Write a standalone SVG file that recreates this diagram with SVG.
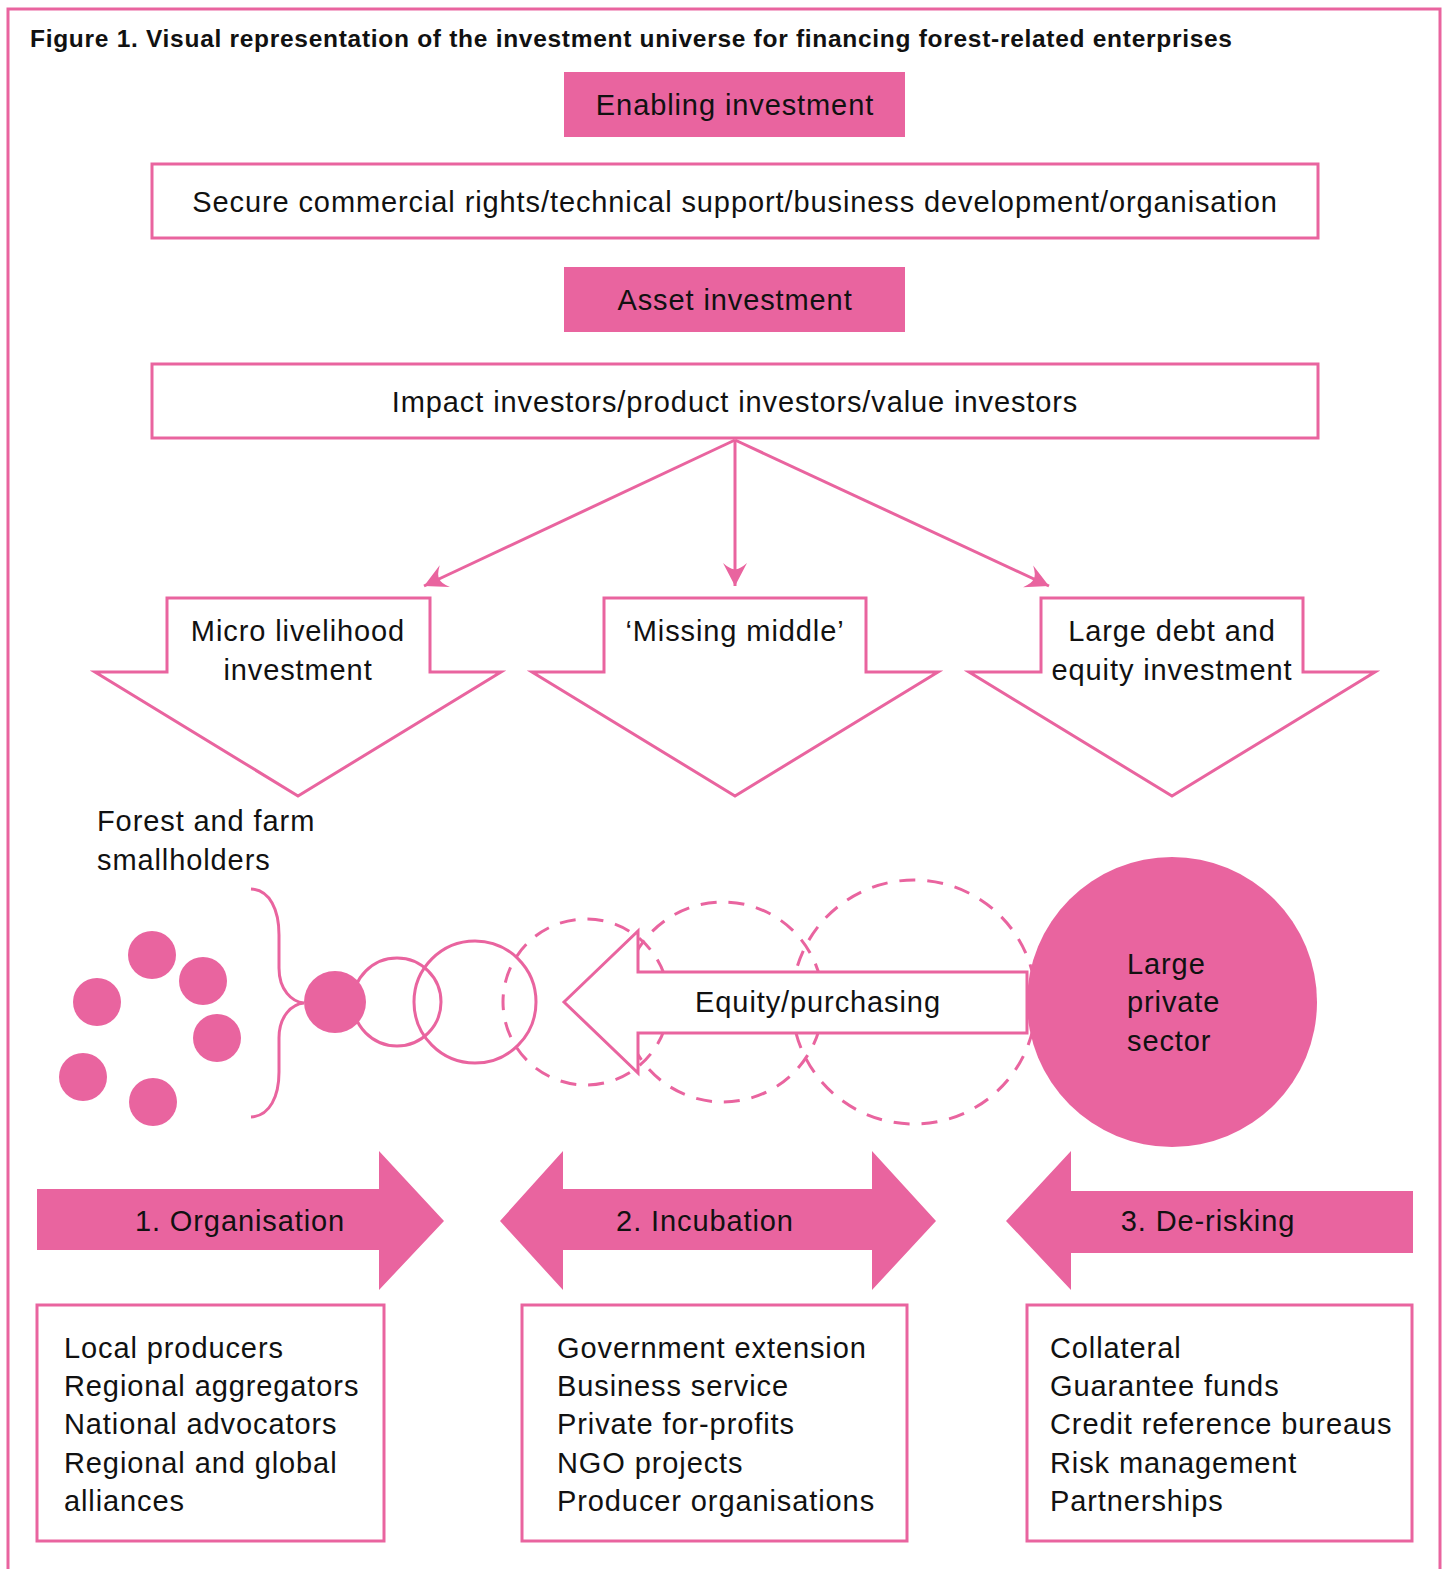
<svg xmlns="http://www.w3.org/2000/svg" width="1448" height="1569" viewBox="0 0 1448 1569">
<style>
text{font-family:"Liberation Sans",Arial,sans-serif;fill:#111;font-size:29px;letter-spacing:0.9px}
.t{font-weight:bold;font-size:24.5px;letter-spacing:0}
.c{text-anchor:middle}
.fill{fill:#E9649F}
.box{fill:#fff;stroke:#E9649F;stroke-width:3}
.ln{fill:none;stroke:#E9649F;stroke-width:3}
.dash{fill:none;stroke:#E9649F;stroke-width:3;stroke-dasharray:16 12}
</style>
<defs>
<marker id="ah" markerUnits="userSpaceOnUse" viewBox="-24 -13 26 26" refX="0" refY="0" markerWidth="26" markerHeight="26" orient="auto">
<path d="M0,0 L-23,-12 Q-16,-4 -17,0 Q-16,4 -23,12 Z" fill="#E9649F"/>
</marker>
</defs>
<rect x="8" y="9" width="1432" height="1580" fill="none" stroke="#E9649F" stroke-width="3"/>
<text class="t" x="30" y="47" textLength="1202" lengthAdjust="spacing">Figure 1. Visual representation of the investment universe for financing forest-related enterprises</text>

<g id="enabling"><rect class="fill" x="564" y="72" width="341" height="65"/><text class="c" x="735" y="115">Enabling investment</text></g>
<g id="secure"><rect class="box" x="152" y="164" width="1166" height="74"/><text class="c" x="735" y="212">Secure commercial rights/technical support/business development/organisation</text></g>
<g id="asset"><rect class="fill" x="564" y="267" width="341" height="65"/><text class="c" x="735" y="310">Asset investment</text></g>
<g id="impact"><rect class="box" x="152" y="364" width="1166" height="74"/><text class="c" x="735" y="412">Impact investors/product investors/value investors</text></g>

<g id="connectors">
<line class="ln" x1="735" y1="440" x2="424" y2="586" marker-end="url(#ah)"/>
<line class="ln" x1="735" y1="440" x2="735" y2="586" marker-end="url(#ah)"/>
<line class="ln" x1="735" y1="440" x2="1049" y2="586" marker-end="url(#ah)"/>
</g>

<g id="micro"><polygon class="box" points="167,598 430,598 430,672 501,672 298,796 95,672 167,672"/><text class="c" x="298" y="641">Micro livelihood</text><text class="c" x="298" y="680">investment</text></g>
<g id="missing"><polygon class="box" points="604,598 866,598 866,672 938,672 735,796 532,672 604,672"/><text class="c" x="735" y="641">‘Missing middle’</text></g>
<g id="large-debt"><polygon class="box" points="1041,598 1303,598 1303,672 1375,672 1172,796 969,672 1041,672"/><text class="c" x="1172" y="641">Large debt and</text><text class="c" x="1172" y="680">equity investment</text></g>

<g id="smallholders">
<text x="97" y="831">Forest and farm</text><text x="97" y="870">smallholders</text>
<circle class="fill" cx="152" cy="955" r="24"/>
<circle class="fill" cx="203" cy="981" r="24"/>
<circle class="fill" cx="97" cy="1002" r="24"/>
<circle class="fill" cx="217" cy="1038" r="24"/>
<circle class="fill" cx="83" cy="1077" r="24"/>
<circle class="fill" cx="153" cy="1102" r="24"/>
<path class="ln" d="M251,889 C270,890 279,910 279,935 L279,968 C279,990 292,1002 304,1003 C292,1004 279,1016 279,1038 L279,1072 C279,1096 270,1116 251,1117"/>
</g>

<g id="growth">
<circle class="ln" cx="397" cy="1002" r="44"/>
<circle class="ln" cx="475" cy="1002" r="61"/>
<circle class="fill" cx="335" cy="1002" r="31"/>
<circle class="dash" cx="586" cy="1002" r="83"/>
<circle class="dash" cx="723" cy="1002" r="100"/>
<circle class="dash" cx="914" cy="1002" r="122"/>
</g>

<g id="large-private"><circle class="fill" cx="1172" cy="1002" r="145"/><text x="1127" y="974">Large</text><text x="1127" y="1012">private</text><text x="1127" y="1051">sector</text></g>

<g id="equity"><polygon class="box" points="564,1002 638,931 638,972 1027,972 1027,1033 638,1033 638,1073"/><text class="c" x="818" y="1012">Equity/purchasing</text></g>

<g id="organisation"><polygon class="fill" points="37,1189 379,1189 379,1151 444,1221 379,1290 379,1250 37,1250"/><text class="c" x="240" y="1231">1. Organisation</text></g>
<g id="incubation"><polygon class="fill" points="500,1221 563,1151 563,1189 872,1189 872,1151 936,1221 872,1290 872,1250 563,1250 563,1290"/><text class="c" x="705" y="1231">2. Incubation</text></g>
<g id="derisking"><polygon class="fill" points="1006,1221 1071,1151 1071,1191 1413,1191 1413,1253 1071,1253 1071,1290"/><text class="c" x="1208" y="1231">3. De-risking</text></g>

<g id="list1"><rect class="box" x="37" y="1305" width="347" height="236"/>
<text x="64" y="1358">Local producers</text><text x="64" y="1396">Regional aggregators</text><text x="64" y="1434">National advocators</text><text x="64" y="1473">Regional and global</text><text x="64" y="1511">alliances</text></g>
<g id="list2"><rect class="box" x="522" y="1305" width="385" height="236"/>
<text x="557" y="1358">Government extension</text><text x="557" y="1396">Business service</text><text x="557" y="1434">Private for-profits</text><text x="557" y="1473">NGO projects</text><text x="557" y="1511">Producer organisations</text></g>
<g id="list3"><rect class="box" x="1027" y="1305" width="385" height="236"/>
<text x="1050" y="1358">Collateral</text><text x="1050" y="1396">Guarantee funds</text><text x="1050" y="1434">Credit reference bureaus</text><text x="1050" y="1473">Risk management</text><text x="1050" y="1511">Partnerships</text></g>
</svg>
